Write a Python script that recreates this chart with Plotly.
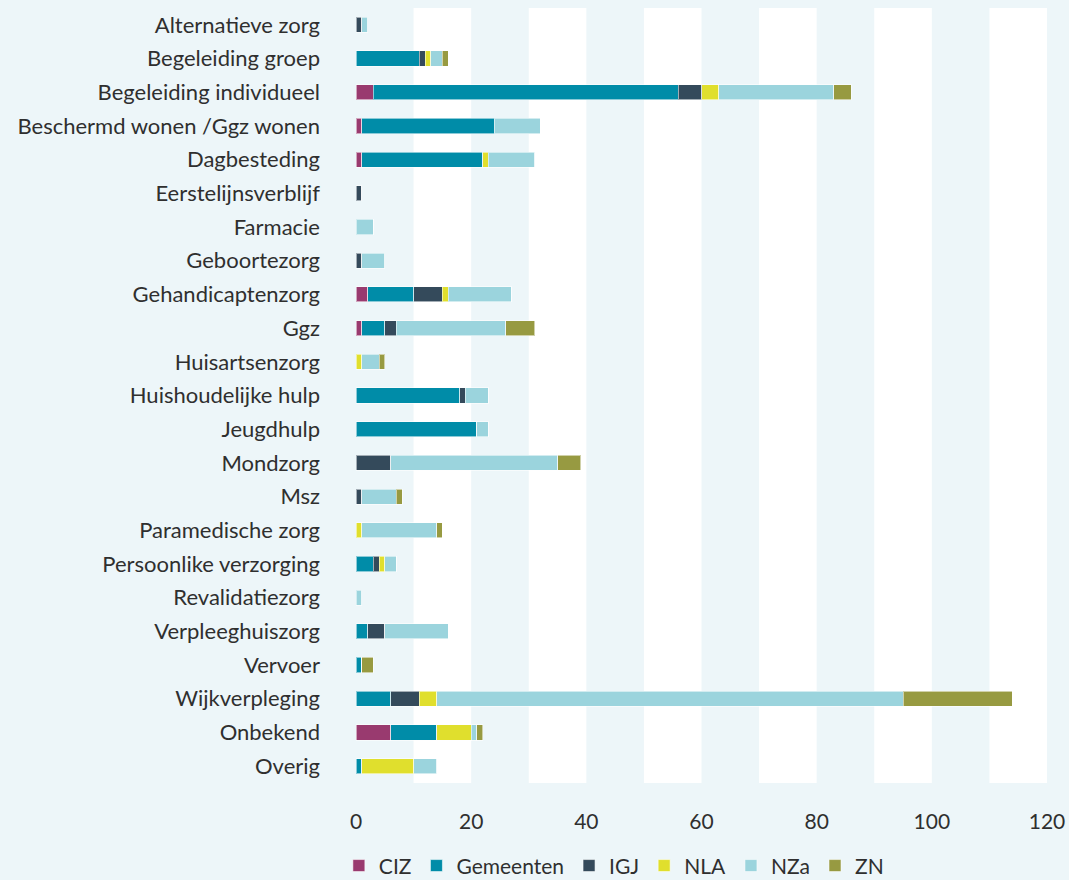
import plotly.graph_objects as go

categories = [
    "Alternatieve zorg", "Begeleiding groep", "Begeleiding individueel",
    "Beschermd wonen /Ggz wonen", "Dagbesteding", "Eerstelijnsverblijf",
    "Farmacie", "Geboortezorg", "Gehandicaptenzorg", "Ggz", "Huisartsenzorg",
    "Huishoudelijke hulp", "Jeugdhulp", "Mondzorg", "Msz", "Paramedische zorg",
    "Persoonlike verzorging", "Revalidatiezorg", "Verpleeghuiszorg", "Vervoer",
    "Wijkverpleging", "Onbekend", "Overig",
]

ciz       = [0, 0, 3, 1, 1, 0, 0, 0, 2, 1, 0, 0, 0, 0, 0, 0, 0, 0, 0, 0, 0, 6, 0]
gemeenten = [0, 11, 53, 23, 21, 0, 0, 0, 8, 4, 0, 18, 21, 0, 0, 0, 3, 0, 2, 1, 6, 8, 1]
igj       = [1, 1, 4, 0, 0, 1, 0, 1, 5, 2, 0, 1, 0, 6, 1, 0, 1, 0, 3, 0, 5, 0, 0]
nla       = [0, 1, 3, 0, 1, 0, 0, 0, 1, 0, 1, 0, 0, 0, 0, 1, 1, 0, 0, 0, 3, 6, 9]
nza       = [1, 2, 20, 8, 8, 0, 3, 4, 11, 19, 3, 4, 2, 29, 6, 13, 2, 1, 11, 0, 81, 1, 4]
zn        = [0, 1, 3, 0, 0, 0, 0, 0, 0, 5, 1, 0, 0, 4, 1, 1, 0, 0, 0, 2, 19, 1, 0]

series_names = ["CIZ", "Gemeenten", "IGJ", "NLA", "NZa", "ZN"]
series_values = [ciz, gemeenten, igj, nla, nza, zn]
series_colors = ["#993a6f", "#008ca8", "#344a5b", "#e0df2d", "#9bd4dd", "#979a41"]

x_ticks = [0, 20, 40, 60, 80, 100, 120]
band_starts = [10, 30, 50, 70, 90, 110]

FONT = "Lato"
TEXT = "#2f2f2f"
BG = "#edf6f9"

fig = go.Figure()
for name, vals, col in zip(series_names, series_values, series_colors):
    fig.add_trace(go.Bar(
        y=categories, x=vals, name=name, orientation="h",
        marker=dict(color=col, line=dict(color="rgba(255,255,255,0.55)", width=1)),
    ))

for s in band_starts:
    fig.add_shape(type="rect", xref="x", yref="paper", x0=s, x1=s + 10, y0=0, y1=1,
                  fillcolor="white", line=dict(width=0), layer="below")

fig.update_layout(
    width=1069, height=880,
    barmode="stack", bargap=0.55,
    paper_bgcolor=BG, plot_bgcolor=BG,
    margin=dict(l=356, r=22, t=8, b=97, autoexpand=False),
    font=dict(family=FONT, size=22, color=TEXT),
    showlegend=True,
    legend=dict(orientation="h", xref="container", yref="container",
                x=0.317, xanchor="left", y=0.016, yanchor="middle",
                font=dict(family=FONT, size=21, color=TEXT), traceorder="normal",
                itemwidth=30, bgcolor="rgba(0,0,0,0)"),
    xaxis=dict(range=[0, 120], tickvals=x_ticks, showgrid=False, zeroline=False,
               showline=False, ticks="", ticklabelstandoff=24,
               tickfont=dict(family=FONT, size=21, color=TEXT), fixedrange=True),
    yaxis=dict(autorange="reversed", showgrid=False, zeroline=False, showline=False,
               ticks="", ticklabelstandoff=35,
               tickfont=dict(family=FONT, size=22, color=TEXT), fixedrange=True),
)

fig.write_html(
    "out.html",
    config={"displayModeBar": False},
    post_script="document.body.style.margin='0';document.body.style.background='%s';" % BG,
)
